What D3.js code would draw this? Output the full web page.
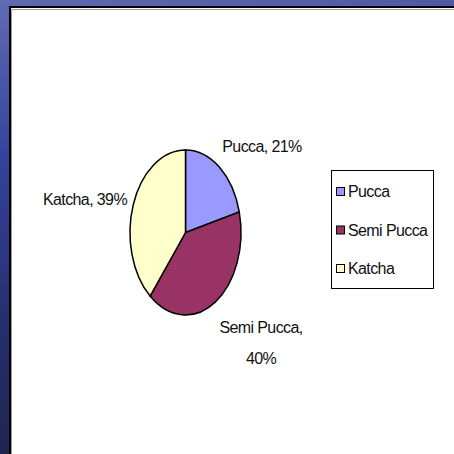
<!DOCTYPE html>
<html>
<head>
<meta charset="utf-8">
<script src="https://cdn.jsdelivr.net/npm/d3@7"></script>
<style>
  html, body { margin: 0; padding: 0; background: #fff; }
  svg { display: block; }
  text { font-family: "Liberation Sans", Arial, sans-serif; fill: #111; }
</style>
</head>
<body>
<svg id="chart" width="454" height="454"></svg>
<script>
// Housing type shares (percent)
const categories = ["Pucca", "Semi Pucca", "Katcha"];
const shares = [21, 40, 39];
const sliceColors = ["#9999FF", "#993366", "#FFFFCC"];

const svg = d3.select("#chart");

// Slide backdrop
const defs = svg.append("defs");
const bg = defs.append("linearGradient").attr("id", "bgGrad")
  .attr("x1", 0).attr("y1", 0).attr("x2", 0).attr("y2", 1);
bg.append("stop").attr("offset", 0).attr("stop-color", "#5f6bb3");
bg.append("stop").attr("offset", 0.35).attr("stop-color", "#34429a");
bg.append("stop").attr("offset", 0.7).attr("stop-color", "#25306f");
bg.append("stop").attr("offset", 1).attr("stop-color", "#1f2350");
svg.append("rect").attr("width", 454).attr("height", 454).attr("fill", "url(#bgGrad)");
const topGrad = defs.append("linearGradient").attr("id", "topGrad")
  .attr("x1", 0).attr("y1", 0).attr("x2", 1).attr("y2", 0);
topGrad.append("stop").attr("offset", 0).attr("stop-color", "#5e69b0");
topGrad.append("stop").attr("offset", 1).attr("stop-color", "#5059a2");
svg.append("rect").attr("x", 10).attr("width", 444).attr("height", 8).attr("fill", "url(#topGrad)");

// Chart panel
svg.append("rect").attr("x", 10).attr("y", 7).attr("width", 460).attr("height", 460)
  .attr("fill", "#fff").attr("stroke", "#000").attr("stroke-width", 2);
svg.append("line").attr("x1", 11.5).attr("x2", 454).attr("y1", 9.5).attr("y2", 9.5)
  .attr("stroke", "#9a9a9a").attr("stroke-width", 1);
svg.append("line").attr("x1", 11.5).attr("x2", 11.5).attr("y1", 9.5).attr("y2", 454)
  .attr("stroke", "#9a9a9a").attr("stroke-width", 1);

// Pie (drawn as an ellipse by vertical stretch)
const cx = 185.5, cy = 232.5, rx = 55.5, ry = 82.5;
const pie = d3.pie().sort(null).value(d => d.value);
const data = categories.map((c, i) => ({ name: c, value: shares[i], color: sliceColors[i] }));
const arcs = pie(data);
const arc = d3.arc().innerRadius(0).outerRadius(rx);

const pieG = svg.append("g")
  .attr("transform", `translate(${cx},${cy}) scale(1,${ry / rx})`);
pieG.selectAll("path").data(arcs).join("path")
  .attr("d", arc)
  .attr("fill", d => d.data.color)
  .attr("stroke", "#000")
  .attr("stroke-width", 1.5)
  .attr("vector-effect", "non-scaling-stroke");

// Slice labels
const labelFont = 16;
const labels = [
  { lines: [`${categories[0]}, ${shares[0]}%`], x: 262, y: 152 },
  { lines: [`${categories[1]},`, `${shares[1]}%`], x: 261, y: 333 },
  { lines: [`${categories[2]}, ${shares[2]}%`], x: 85, y: 205 }
];
labels.forEach(l => {
  const t = svg.append("text")
    .attr("text-anchor", "middle")
    .attr("font-size", labelFont)
    .attr("letter-spacing", "-0.6px");
  l.lines.forEach((s, i) => {
    t.append("tspan").attr("x", l.x).attr("y", l.y + i * 31).text(s);
  });
});

// Legend
const legend = svg.append("g");
legend.append("rect").attr("x", 331.5).attr("y", 170.5).attr("width", 102).attr("height", 118)
  .attr("fill", "#fff").attr("stroke", "#000").attr("stroke-width", 1);
const rowY = d3.scalePoint().domain(categories).range([197, 274]);
categories.forEach((c, i) => {
  legend.append("rect").attr("x", 336.5).attr("y", rowY(c) - 9.5).attr("width", 8).attr("height", 8)
    .attr("fill", sliceColors[i]).attr("stroke", "#000").attr("stroke-width", 1);
  legend.append("text").attr("x", 348).attr("y", rowY(c))
    .attr("font-size", 16).attr("letter-spacing", "-0.6px").text(c);
});
</script>
</body>
</html>
